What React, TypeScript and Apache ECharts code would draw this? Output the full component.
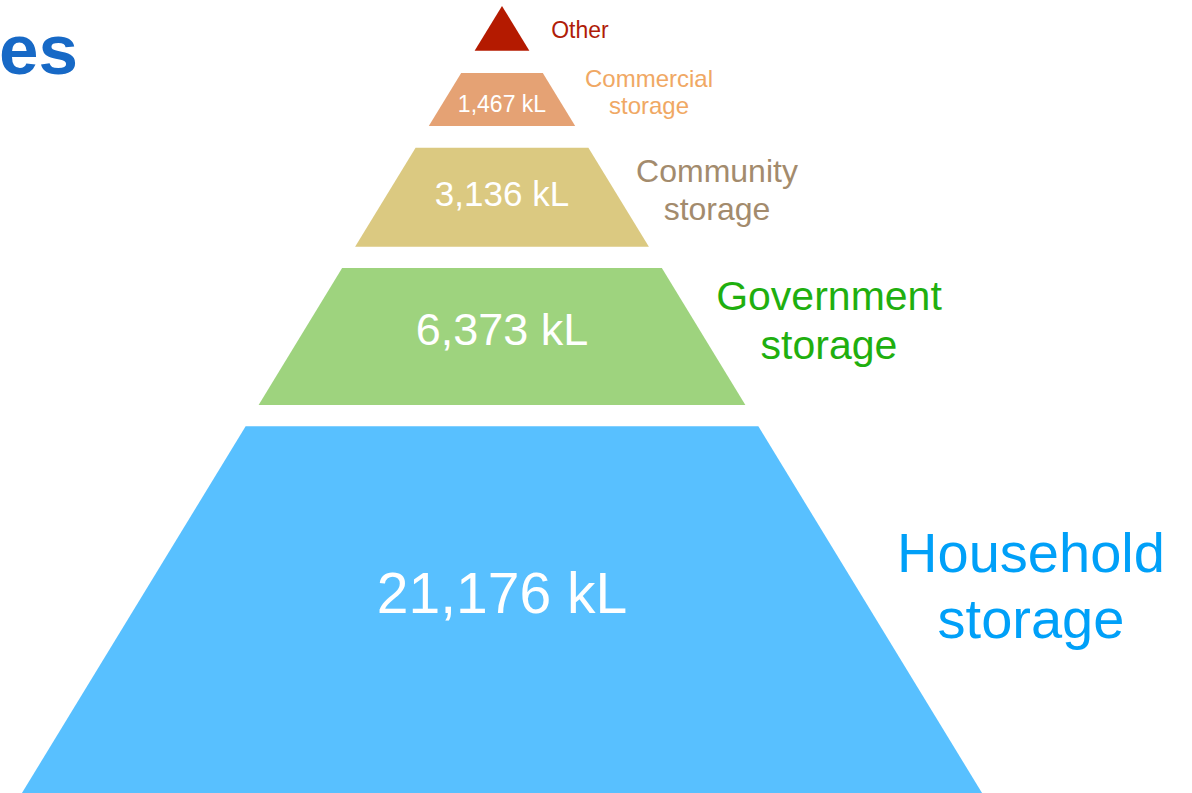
import React, { useEffect, useRef } from 'react';
import * as echarts from 'echarts';

// ---- data ----
const LEVEL_NAMES = ['Household\nstorage', 'Government\nstorage', 'Community\nstorage', 'Commercial\nstorage', 'Other'];
const VOLUMES_KL: (number | null)[] = [21176, 6373, 3136, 1467, null];
// band limits, as depth below the pyramid apex (0 = apex, 100 = bottom of view)
const BAND_TOP = [53.4, 33.3, 18.0, 8.5, 0];
const BAND_BOTTOM = [100, 50.7, 30.6, 15.25, 5.7];
const TITLE_FRAGMENT = 'es';

// ---- styles / layout ----
const SLOPE = 0.61; // pyramid half-width per unit of depth
const FILLS = ['#58C0FF', '#9ED37E', '#DBC981', '#E5A274', '#B41A00'];
const NAME_COLORS = ['#00A0F8', '#1FAF0F', '#A38B6D', '#F0A864', '#B01C08'];
const NAME_SIZES = [56, 41, 32, 24, 23];
const NAME_LINE_HEIGHTS = [66, 49, 38, 27, 27];
const VALUE_SIZES = [57, 45, 35, 23, 20];
// label anchors in axis units
const NAME_X = [67.22, 41.55, 27.32, 18.68, 9.91];
const NAME_Y = [73.65, 39.94, 23.38, 10.95, 2.99];
const VALUE_Y = [74.54, 41.09, 23.88, 12.45, 3];

const FONT = 'Arial, "Liberation Sans", sans-serif';

export default function App() {
  const ref = useRef<HTMLDivElement>(null);
  useEffect(() => {
    document.body.style.margin = '0';
    const chart = echarts.init(ref.current!, null, { renderer: 'svg' });
    const data = LEVEL_NAMES.map((_, i) => [BAND_TOP[i], BAND_BOTTOM[i], i]);
    chart.setOption({
      animation: false,
      backgroundColor: '#ffffff',
      grid: { left: 0, right: 0, top: 6, bottom: 0, containLabel: false },
      xAxis: { type: 'value', min: -63.79, max: 87.68, show: false },
      yAxis: { type: 'value', min: 0, max: 100, inverse: true, show: false },
      graphic: [
        {
          type: 'text',
          x: -1,
          y: 49.4,
          style: {
            text: TITLE_FRAGMENT,
            fill: '#1769C6',
            font: `bold 71px ${FONT}`,
            align: 'left',
            verticalAlign: 'middle',
          },
        },
      ],
      series: [
        {
          type: 'custom',
          clip: false,
          data,
          encode: { y: [0, 1] },
          renderItem: (params: any, api: any) => {
            const top = api.value(0);
            const bottom = api.value(1);
            const i = api.value(2);
            const p1 = api.coord([-SLOPE * top, top]);
            const p2 = api.coord([SLOPE * top, top]);
            const p3 = api.coord([SLOPE * bottom, bottom]);
            const p4 = api.coord([-SLOPE * bottom, bottom]);
            const children: any[] = [
              {
                type: 'polygon',
                shape: { points: [p1, p2, p3, p4] },
                style: { fill: FILLS[i] },
              },
            ];
            const v = VOLUMES_KL[i];
            if (v != null) {
              const vp = api.coord([0, VALUE_Y[i]]);
              children.push({
                type: 'text',
                x: vp[0],
                y: vp[1],
                style: {
                  text: v.toLocaleString('en-US') + ' kL',
                  fill: '#ffffff',
                  font: `${VALUE_SIZES[i]}px ${FONT}`,
                  align: 'center',
                  verticalAlign: 'middle',
                },
              });
            }
            const np = api.coord([NAME_X[i], NAME_Y[i]]);
            children.push({
              type: 'text',
              x: np[0],
              y: np[1],
              style: {
                text: LEVEL_NAMES[i],
                fill: NAME_COLORS[i],
                font: `${NAME_SIZES[i]}px ${FONT}`,
                lineHeight: NAME_LINE_HEIGHTS[i],
                align: 'center',
                verticalAlign: 'middle',
              },
            });
            return { type: 'group', children };
          },
        },
      ],
    });
    return () => chart.dispose();
  }, []);
  return <div ref={ref} style={{ position: 'fixed', left: 0, top: 0, width: 1192, height: 793 }} />;
}
